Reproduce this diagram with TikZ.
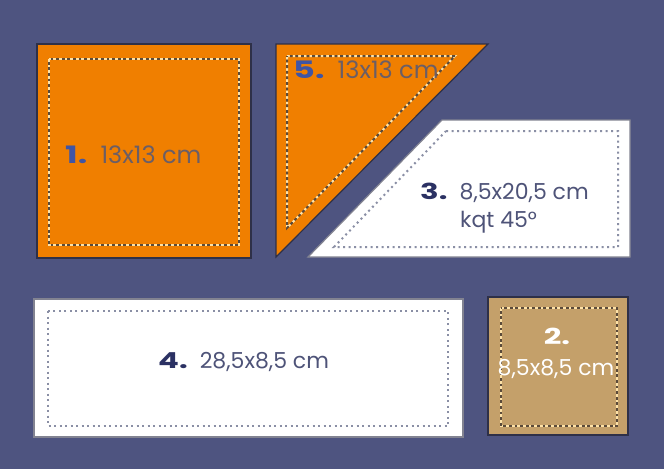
\documentclass[tikz,border=0pt]{standalone}
\usepackage{fontspec}
\usepackage{graphicx}
\setmainfont{Poppins}
\definecolor{bg}{HTML}{4E5480}
\definecolor{org}{HTML}{F07F00}
\definecolor{tan}{HTML}{C4A06A}
\definecolor{edge}{HTML}{2E3048}
\definecolor{blu}{HTML}{3F55A5}
\definecolor{gtxt}{HTML}{6B5E66}
\definecolor{navy}{HTML}{2B3163}
\definecolor{wtxt}{HTML}{4E5378}
\definecolor{cream}{HTML}{FFE3A8}
\definecolor{ddot}{HTML}{5A4A3A}
\definecolor{gdot}{HTML}{8A8FA5}
\tikzset{
  piece/.style={draw=edge, line width=1.2pt, line join=miter},
  lightdots/.style={draw=cream, line width=2pt, dash pattern=on 2.8pt off 2.8pt},
  darkdots/.style={draw=ddot, line width=2pt, dash pattern=on 2.8pt off 2.8pt, dash phase=2.8pt},
  greydots/.style={draw=gdot, line width=2pt, dash pattern=on 2pt off 3.5pt},
  lbl/.style={inner sep=0pt, anchor=base west, font=\fontsize{22}{26}\selectfont},
  big/.style={font=\fontsize{24}{28}\selectfont},
}
\newcommand{\pnum}[1]{\scalebox{1.4}[1]{\textbf{#1}}\hspace{0.55em}}
\begin{document}
\begin{tikzpicture}[x=1pt,y=-1pt]
\fill[bg] (0,0) rectangle (664,469);
\useasboundingbox (0,0) rectangle (664,469);
% piece 1
\path[piece, fill=org] (37,44) rectangle (251,258);
\draw[lightdots] (49,59) rectangle (239,245);
\draw[darkdots] (49,59) rectangle (239,245);
\node[lbl, big] (t1) at (65,163) {\textcolor{blu}{\pnum{1.}}\textcolor{gtxt}{13x13 cm}};
% piece 5
\path[piece, fill=org] (276,44) -- (488,44) -- (276,257) -- cycle;
\draw[lightdots] (287,56) -- (455,56) -- (287,228) -- cycle;
\draw[darkdots] (287,56) -- (455,56) -- (287,228) -- cycle;
\node[lbl, big] (t5) at (293,78) {\textcolor{blu}{\pnum{5.}}\textcolor{gtxt}{13x13 cm}};
% piece 3
\path[piece, fill=white, draw=edge!60] (442,120) -- (630,120) -- (630,257) -- (308,257) -- cycle;
\draw[greydots] (446,131) -- (618,131) -- (618,247) -- (334,247) -- cycle;
\node[lbl] (t3) at (420,199) {\textcolor{navy}{\pnum{3.}}\textcolor{wtxt}{8,5x20,5 cm}};
\node[lbl] (t3b) at (460,227) {\textcolor{wtxt}{kqt 45°}};
% piece 4
\path[piece, fill=white, draw=edge!60] (34,299) rectangle (463,437);
\draw[greydots] (48,311) rectangle (448,426);
\node[lbl] (t4) at (158,368) {\textcolor{navy}{\pnum{4.}}\textcolor{wtxt}{28,5x8,5 cm}};
% piece 2
\path[piece, fill=tan] (488,297) rectangle (628,435);
\draw[lightdots] (501,308) rectangle (617,426);
\draw[darkdots] (501,308) rectangle (617,426);
\node[lbl, anchor=base, text=white] (t2a) at (557,344) {\scalebox{1.4}[1]{\textbf{2.}}};
\node[lbl, anchor=base, text=white] (t2b) at (556,375) {8,5x8,5 cm};
\end{tikzpicture}
\end{document}
